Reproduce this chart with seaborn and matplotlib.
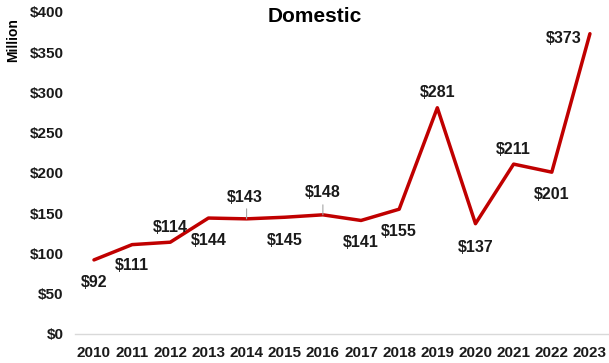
import matplotlib
matplotlib.use("Agg")
import matplotlib.pyplot as plt
import seaborn as sns
import pandas as pd

years = [2010, 2011, 2012, 2013, 2014, 2015, 2016, 2017, 2018, 2019, 2020, 2021, 2022, 2023]
values = [92, 111, 114, 144, 143, 145, 148, 141, 155, 281, 137, 211, 201, 373]
# label offsets in pixels relative to each point (dx, dy); 'leader' draws a thin connector
label_offsets = [(0, -23), (0, -21), (0, 15), (0, -22), (-2, 21), (0, -23), (0, 22),
                 (0, -22), (0, -22), (0, 15), (0, -24), (0, 15), (0, -22), (-8, -5)]
leaders = [False, False, False, False, True, False, True,
           False, False, False, False, False, False, False]
y_ticks = [0, 50, 100, 150, 200, 250, 300, 350, 400]

sns.set_style("white")
plt.rcParams["font.family"] = ["Liberation Sans", "DejaVu Sans"]

df = pd.DataFrame({"year": [str(y) for y in years], "value": values})

fig = plt.figure(figsize=(6.09, 3.63), dpi=100)
ax = fig.add_axes([0.123, 0.080, 0.877, 0.887])

sns.lineplot(data=df, x="year", y="value", ax=ax, color="#C00000", linewidth=2.5, sort=False)

ax.set_xlim(-0.5, len(years) - 0.5)
ax.set_ylim(0, 400)
ax.set_yticks(y_ticks)
ax.set_yticklabels([f"${v}" for v in y_ticks], fontsize=11, fontweight="bold", color="#1a1a1a")
ax.set_xticks(range(len(years)))
ax.set_xticklabels([str(y) for y in years], fontsize=11, fontweight="bold", color="#1a1a1a")
ax.tick_params(axis="both", length=0)
ax.tick_params(axis="x", pad=9)
ax.tick_params(axis="y", pad=8)
ax.set_xlabel("")
ax.set_ylabel("")

for side in ["top", "right", "left"]:
    ax.spines[side].set_visible(False)
ax.spines["bottom"].set_color("#d9d9d9")
ax.spines["bottom"].set_linewidth(1.0)

for i, (v, (dx, dy), lead) in enumerate(zip(values, label_offsets, leaders)):
    ha = "right" if i == len(values) - 1 else "center"
    ax.annotate(f"${v}", xy=(i, v), xytext=(dx, dy), textcoords="offset pixels",
                ha=ha, va="center", fontsize=11.5, fontweight="bold", color="#1a1a1a")
    if lead:
        ax.annotate("", xy=(i, v), xytext=(0, 10), textcoords="offset pixels",
                    arrowprops=dict(arrowstyle="-", color="#a6a6a6", lw=0.8,
                                    shrinkA=0, shrinkB=0))

fig.text(0.517, 0.955, "Domestic", ha="center", va="center", fontsize=15,
         fontweight="bold", color="#000000")
fig.text(0.021, 0.89, "Million", ha="center", va="center", rotation=90,
         fontsize=10, fontweight="bold", color="#000000")

fig.savefig("out.png", dpi=100)
